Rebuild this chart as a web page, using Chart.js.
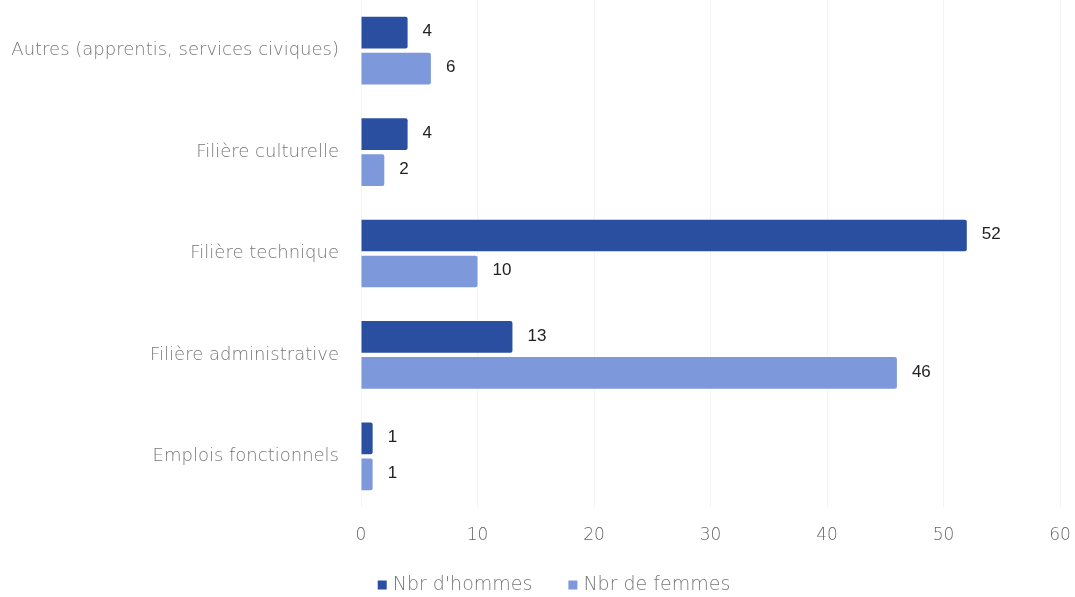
<!DOCTYPE html>
<html><head><meta charset="utf-8">
<script src="https://cdn.jsdelivr.net/npm/chart.js@4"></script>
<style>html,body{margin:0;padding:0;background:#fff;overflow:hidden}#wrap{width:1075px;height:597px}</style>
</head><body><div id="wrap"><canvas id="c" width="1075" height="597"></canvas></div>
<script>
const categories = ["Autres (apprentis, services civiques)", "Filière culturelle", "Filière technique", "Filière administrative", "Emplois fonctionnels"];
const hommes = [4, 4, 52, 13, 1];
const femmes = [6, 2, 10, 46, 1];
const seriesNames = ["Nbr d'hommes", "Nbr de femmes"];
const xTicks = [0, 10, 20, 30, 40, 50, 60];

const FONT = '"DejaVu Sans", sans-serif';

const dataLabels = {
  id: 'dataLabels',
  afterDatasetsDraw(chart) {
    const ctx = chart.ctx;
    ctx.save();
    ctx.font = '17px "Liberation Sans", Arial, sans-serif';
    ctx.fillStyle = '#222';
    ctx.textBaseline = 'middle';
    chart.data.datasets.forEach((ds, i) => {
      chart.getDatasetMeta(i).data.forEach((bar, j) => {
        ctx.fillText(String(ds.data[j]), bar.x + 15, bar.y - 1);
      });
    });
    ctx.restore();
  }
};

const customLegend = {
  id: 'customLegend',
  afterDraw(chart) {
    const ctx = chart.ctx;
    ctx.save();
    ctx.font = '200 19px ' + FONT;
    ctx.textBaseline = 'middle';
    const box = 9, gap = 6, itemGap = 36;
    const items = chart.data.datasets.map(ds => ({ text: ds.label, color: ds.backgroundColor, w: box + gap + ctx.measureText(ds.label).width }));
    const total = items.reduce((a, it) => a + it.w, 0) + itemGap * (items.length - 1);
    let x = 554 - total / 2;
    const y = 585;
    items.forEach(it => {
      ctx.fillStyle = it.color;
      ctx.fillRect(x, y - box / 2, box, box);
      ctx.fillStyle = '#777';
      ctx.fillText(it.text, x + box + gap, y);
      x += it.w + itemGap;
    });
    ctx.restore();
  }
};

const chart = new Chart(document.getElementById('c'), {
  type: 'bar',
  data: {
    labels: categories,
    datasets: [
      { label: seriesNames[0], data: hommes, backgroundColor: '#2B4FA0', borderRadius: 2 },
      { label: seriesNames[1], data: femmes, backgroundColor: '#7D99DB', borderRadius: 2 }
    ]
  },
  options: {
    indexAxis: 'y',
    responsive: false,
    animation: false,
    layout: { padding: { left: 0, right: 15, top: 0, bottom: 38 } },
    datasets: { bar: { barPercentage: 0.88, categoryPercentage: 0.71 } },
    scales: {
      x: {
        min: 0, max: 60,
        afterBuildTicks(s) { s.ticks = xTicks.map(v => ({ value: v })); },
        afterFit(s) { s.height = 52; s.paddingLeft = 0; s.paddingRight = 0; },
        grid: { color: '#f4f4f4', drawTicks: false },
        border: { display: false },
        ticks: { padding: 18, color: '#666', font: { family: FONT, size: 17, weight: 200 } }
      },
      y: {
        afterFit(s) { s.width = 361; s.paddingTop = 0; s.paddingBottom = 0; },
        grid: { display: false, drawTicks: false },
        border: { display: false },
        ticks: { padding: 22, color: '#777', font: { family: FONT, size: 18, weight: 200 } }
      }
    },
    plugins: {
      legend: { display: false },
      tooltip: { enabled: false }
    }
  },
  plugins: [dataLabels, customLegend]
});
</script></body></html>
